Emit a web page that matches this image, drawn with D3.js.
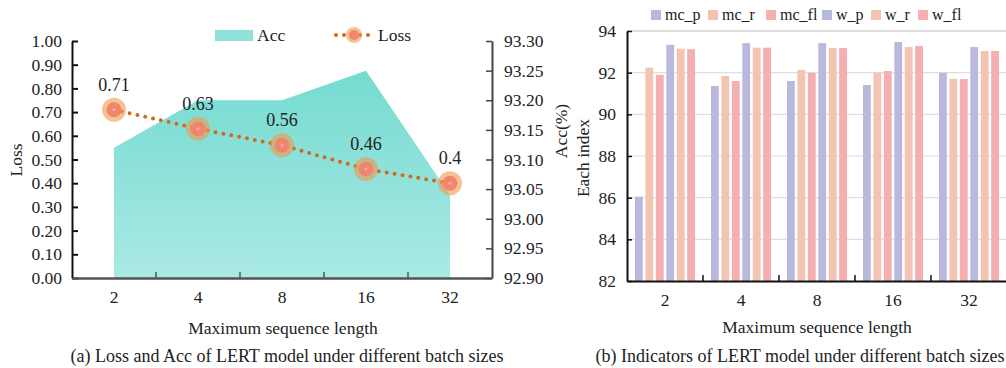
<!DOCTYPE html>
<html>
<head>
<meta charset="utf-8">
<script src="https://cdn.jsdelivr.net/npm/d3@7"></script>
<style>
  body { margin: 0; background: #fff; }
  svg text { font-family: "Liberation Serif", "Times New Roman", serif; fill: #222; }
</style>
</head>
<body>
<svg id="chart" width="1006" height="368"></svg>
<script>
// ---- data ----
const lengths = ["2", "4", "8", "16", "32"];
const lossValues = [0.71, 0.63, 0.56, 0.46, 0.4];
const accValues = [93.12, 93.2, 93.2, 93.25, 93.04];

const seriesNames = ["mc_p", "mc_r", "mc_fl", "w_p", "w_r", "w_fl"];
const indexValues = {
  mc_p: [86.05, 91.36, 91.6, 91.41, 91.99],
  mc_r: [92.24, 91.84, 92.13, 91.99, 91.7],
  mc_fl: [91.9, 91.6, 91.99, 92.08, 91.7],
  w_p: [93.34, 93.42, 93.42, 93.47, 93.23],
  w_r: [93.15, 93.2, 93.18, 93.23, 93.04],
  w_fl: [93.13, 93.2, 93.18, 93.28, 93.04]
};
const lossTicks = [0, 0.1, 0.2, 0.3, 0.4, 0.5, 0.6, 0.7, 0.8, 0.9, 1.0];
const accTicks = [92.9, 92.95, 93.0, 93.05, 93.1, 93.15, 93.2, 93.25, 93.3];
const indexTicks = [82, 84, 86, 88, 90, 92, 94];

const barColors = {
  mc_p: "#b9b9dd", mc_r: "#f4c4b2", mc_fl: "#f6afb1",
  w_p: "#b9b9dd", w_r: "#f4c4b2", w_fl: "#f6afb1"
};

const FS = "17.5px";

const svg = d3.select("#chart");

const defs = svg.append("defs");
const grad = defs.append("linearGradient")
  .attr("id", "accGrad")
  .attr("x1", 0).attr("y1", 0).attr("x2", 0).attr("y2", 1);
grad.append("stop").attr("offset", "0%").attr("stop-color", "#74dbd1");
grad.append("stop").attr("offset", "100%").attr("stop-color", "#aae9e4");

// ================= left chart =================
const L = { left: 72, right: 492, top: 41, bottom: 278 };

const x = d3.scaleBand().domain(lengths).range([L.left, L.right]);
const yLoss = d3.scaleLinear().domain([0, 1]).range([L.bottom, L.top]);
const yAcc = d3.scaleLinear().domain([92.9, 93.3]).range([L.bottom, L.top]);

const left = svg.append("g");

// acc area
const area = d3.area()
  .x((d, i) => x(lengths[i]) + x.bandwidth() / 2)
  .y0(L.bottom)
  .y1((d) => yAcc(d));

left.append("path")
  .datum(accValues)
  .attr("d", area)
  .attr("fill", "url(#accGrad)");

// left axis (ticks inside)
const axL = left.append("g")
  .attr("transform", `translate(${L.left},0)`)
  .call(d3.axisLeft(yLoss).tickValues(lossTicks).tickFormat(d3.format(".2f"))
    .tickSizeInner(-6).tickSizeOuter(0).tickPadding(10));
axL.select(".domain").attr("stroke", "#111").attr("stroke-width", 2);
axL.selectAll(".tick line").attr("stroke", "#111").attr("stroke-width", 2);
axL.selectAll("text").style("font-size", FS).attr("fill", "#222");

// right axis (ticks inside)
const axR = left.append("g")
  .attr("transform", `translate(${L.right},0)`)
  .call(d3.axisRight(yAcc).tickValues(accTicks).tickFormat(d3.format(".2f"))
    .tickSizeInner(-6).tickSizeOuter(0).tickPadding(12));
axR.select(".domain").attr("stroke", "#444").attr("stroke-width", 2);
axR.selectAll(".tick line").attr("stroke", "#444").attr("stroke-width", 1.5);
axR.selectAll("text").style("font-size", FS).attr("fill", "#222");

// bottom axis
const axB = left.append("g")
  .attr("transform", `translate(0,${L.bottom})`)
  .call(d3.axisBottom(x).tickSize(0).tickPadding(13));
axB.select(".domain").attr("stroke", "#555").attr("stroke-width", 2.5);
axB.selectAll("text").style("font-size", FS).attr("fill", "#222");
left.append("g")
  .selectAll("line")
  .data(lengths.slice(1))
  .join("line")
  .attr("x1", (d) => x(d)).attr("x2", (d) => x(d))
  .attr("y1", L.bottom).attr("y2", L.bottom - 6)
  .attr("stroke", "#555").attr("stroke-width", 1.5);

// loss line
const lossLine = d3.line()
  .x((d, i) => x(lengths[i]) + x.bandwidth() / 2)
  .y((d) => yLoss(d));

left.append("path")
  .datum(lossValues)
  .attr("d", lossLine)
  .attr("fill", "none")
  .attr("stroke", "#d2691e")
  .attr("stroke-width", 4)
  .attr("stroke-linecap", "round")
  .attr("stroke-dasharray", "0 8");

const markers = left.append("g")
  .selectAll("g")
  .data(lossValues)
  .join("g")
  .attr("transform", (d, i) =>
    `translate(${x(lengths[i]) + x.bandwidth() / 2},${yLoss(d)})`);
markers.append("circle").attr("r", 12).attr("fill", "#f09a4c").attr("fill-opacity", 0.6);
markers.append("circle").attr("r", 7.5).attr("fill", "#f0866c");
markers.append("circle").attr("r", 1.5).attr("fill", "#f4a6c4");
markers.append("text")
  .attr("y", -19)
  .attr("text-anchor", "middle")
  .style("font-size", "18px")
  .text((d) => d);

// legend
const lg = left.append("g");
lg.append("rect").attr("x", 215).attr("y", 30).attr("width", 38).attr("height", 11)
  .attr("fill", "#8fe2da");
lg.append("text").attr("x", 257).attr("y", 41).style("font-size", FS).text("Acc");
lg.append("line").attr("x1", 336).attr("x2", 370).attr("y1", 35).attr("y2", 35)
  .attr("stroke", "#d2691e").attr("stroke-width", 4)
  .attr("stroke-linecap", "round").attr("stroke-dasharray", "0 8");
lg.append("circle").attr("cx", 354).attr("cy", 35).attr("r", 8).attr("fill", "#f09a4c").attr("fill-opacity", 0.6);
lg.append("circle").attr("cx", 354).attr("cy", 35).attr("r", 5).attr("fill", "#f0866c");
lg.append("text").attr("x", 378).attr("y", 41).style("font-size", FS).text("Loss");

// titles
left.append("text")
  .attr("transform", "translate(22,160) rotate(-90)")
  .attr("text-anchor", "middle").style("font-size", FS).text("Loss");
left.append("text")
  .attr("transform", "translate(567,131) rotate(-90)")
  .attr("text-anchor", "middle").style("font-size", FS).text("Acc(%)");
left.append("text")
  .attr("x", 283).attr("y", 334)
  .attr("text-anchor", "middle").style("font-size", FS).text("Maximum sequence length");
left.append("text")
  .attr("x", 287).attr("y", 362)
  .attr("text-anchor", "middle").style("font-size", "18px")
  .text("(a) Loss and Acc of LERT model under different batch sizes");

// ================= right chart =================
const R = { left: 627, right: 1007, top: 31, bottom: 281 };

const x0 = d3.scaleBand().domain(lengths).range([R.left, R.right]);
const x1 = d3.scaleBand().domain(seriesNames).range([0, 60]).paddingInner(0.25);
const y = d3.scaleLinear().domain([82, 94]).range([R.bottom, R.top]);

const right = svg.append("g");

// grid
right.append("g")
  .selectAll("line")
  .data(indexTicks.slice(1))
  .join("line")
  .attr("x1", R.left).attr("x2", 1006)
  .attr("y1", (d) => y(d)).attr("y2", (d) => y(d))
  .attr("stroke", "#dedede").attr("stroke-width", (d) => (d === 94 ? 2 : 1.2));

// bars
right.append("g")
  .selectAll("g")
  .data(lengths)
  .join("g")
  .attr("transform", (d) => `translate(${x0(d) + x0.bandwidth() / 2 - 30},0)`)
  .selectAll("rect")
  .data((d, i) => seriesNames.map((s) => ({ s, v: indexValues[s][i] })))
  .join("rect")
  .attr("x", (d) => x1(d.s))
  .attr("width", x1.bandwidth())
  .attr("y", (d) => y(d.v))
  .attr("height", (d) => y(82) - y(d.v))
  .attr("fill", (d) => barColors[d.s]);

// y axis
const ay = right.append("g")
  .attr("transform", `translate(${R.left},0)`)
  .call(d3.axisLeft(y).tickValues(indexTicks).tickSizeInner(-5).tickSizeOuter(0).tickPadding(11));
ay.select(".domain").attr("stroke", "#111").attr("stroke-width", 2);
ay.selectAll(".tick line").attr("stroke", "#111").attr("stroke-width", 1.5);
ay.selectAll("text").style("font-size", FS).attr("fill", "#222");

// x axis
const ax = right.append("g")
  .attr("transform", `translate(0,${R.bottom})`)
  .call(d3.axisBottom(x0).tickSize(0).tickPadding(13));
ax.select(".domain").attr("stroke", "#111").attr("stroke-width", 2);
ax.selectAll("text").style("font-size", FS).attr("fill", "#222");
right.append("g")
  .selectAll("line")
  .data(lengths.slice(1))
  .join("line")
  .attr("x1", (d) => x0(d)).attr("x2", (d) => x0(d))
  .attr("y1", R.bottom).attr("y2", R.bottom - 6)
  .attr("stroke", "#111").attr("stroke-width", 1.5);

// legend
const legendX = [651, 708, 766, 822, 871, 918];
const leg = right.append("g")
  .selectAll("g")
  .data(seriesNames)
  .join("g")
  .attr("transform", (d, i) => `translate(${legendX[i]},10)`);
leg.append("rect").attr("width", 10).attr("height", 10).attr("fill", (d) => barColors[d]);
leg.append("text").attr("x", 14).attr("y", 10).style("font-size", "16px").text((d) => d);

// titles
right.append("text")
  .attr("transform", "translate(589,158) rotate(-90)")
  .attr("text-anchor", "middle").style("font-size", FS).text("Each index");
right.append("text")
  .attr("x", 817).attr("y", 333)
  .attr("text-anchor", "middle").style("font-size", FS).text("Maximum sequence length");
right.append("text")
  .attr("x", 800).attr("y", 362)
  .attr("text-anchor", "middle").style("font-size", "18px")
  .text("(b) Indicators of LERT model under different batch sizes");
</script>
</body>
</html>
